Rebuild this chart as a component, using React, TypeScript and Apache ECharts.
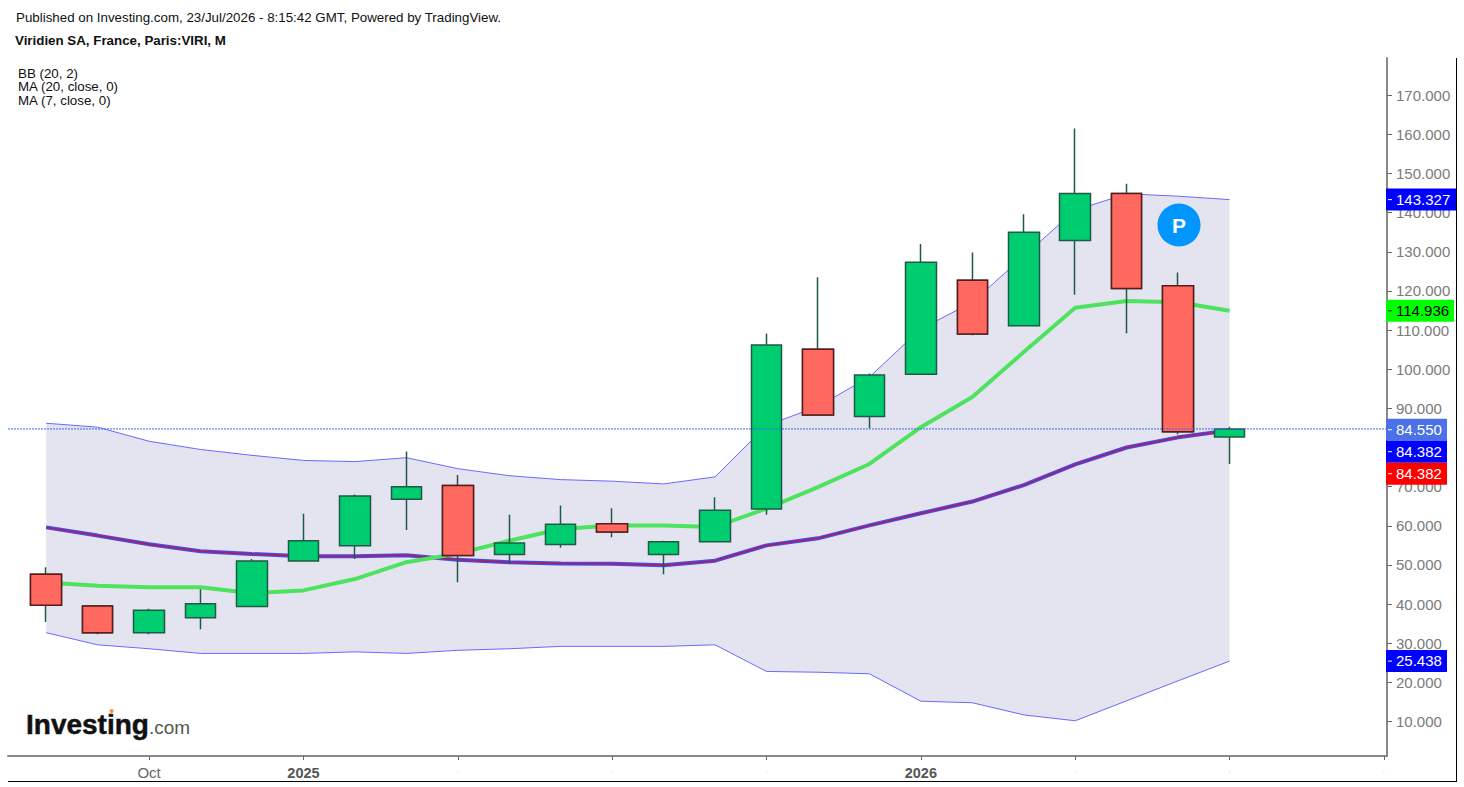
import React, { useEffect, useRef } from "react";
import * as echarts from "echarts";

// [open, close, low, high], monthly
const candles: number[][] = [
  [47.6, 39.7, 35.4, 49.4],
  [39.5, 32.7, 32.3, 39.6],
  [32.7, 38.4, 32.3, 38.8],
  [36.5, 40.1, 33.6, 43.8],
  [39.4, 51.0, 39.2, 51.5],
  [51.0, 56.2, 50.9, 63.1],
  [54.9, 67.6, 51.5, 68.0],
  [66.8, 70.0, 58.9, 79.0],
  [70.3, 52.4, 45.6, 73.0],
  [52.7, 55.6, 50.4, 62.8],
  [55.2, 60.4, 54.4, 65.2],
  [60.5, 58.4, 57.1, 64.5],
  [52.7, 55.9, 47.6, 56.2],
  [55.9, 64.0, 55.9, 67.3],
  [64.3, 106.2, 62.8, 109.1],
  [105.1, 88.3, 88.3, 123.5],
  [87.9, 98.5, 84.9, 98.9],
  [98.7, 127.3, 98.7, 132.0],
  [122.7, 109.0, 108.7, 129.8],
  [111.1, 135.0, 110.9, 139.6],
  [132.9, 144.9, 119.0, 161.5],
  [144.9, 120.6, 109.2, 147.4],
  [121.3, 84.0, 83.4, 124.7],
  [82.7, 84.75, 75.8, 85.3],
];
const bbUpper = [86.2, 85.2, 81.6, 79.5, 78.0, 76.7, 76.4, 77.4, 74.6, 72.8, 71.8, 71.4, 70.7, 72.5, 85.6, 90.5, 98.0, 110.3, 117.1, 128.9, 140.6, 144.8, 144.2, 143.327];
const bbLower = [32.7, 29.6, 28.6, 27.4, 27.4, 27.4, 27.8, 27.4, 28.2, 28.6, 29.2, 29.2, 29.2, 29.6, 22.8, 22.6, 22.2, 15.2, 14.8, 11.7, 10.2, 15.3, 20.4, 25.438];
const bbBasis = [59.6, 57.5, 55.3, 53.5, 52.8, 52.2, 52.2, 52.5, 51.3, 50.7, 50.4, 50.3, 49.9, 51.1, 55.0, 56.8, 60.1, 63.2, 66.2, 70.4, 75.7, 80.0, 82.6, 84.382];
const ma7 = [45.5, 44.7, 44.3, 44.3, 42.8, 43.5, 46.4, 50.7, 52.9, 56.2, 59.2, 60.1, 60.1, 59.7, 64.4, 69.9, 75.8, 85.2, 92.9, 104.4, 115.7, 117.4, 117.1, 114.936];

const yTicks = [10, 20, 30, 40, 50, 60, 70, 80, 90, 100, 110, 120, 130, 140, 150, 160, 170];
// 80.000 sits fully behind the price tags in the reference, so it has no visible label
const yLabels = [10, 20, 30, 40, 50, 60, 70, 90, 100, 110, 120, 130, 140, 150, 160, 170];
const xTicks = [2, 5, 8, 11, 14, 17, 20, 23, 26];
const xTickLabels = ["Oct", "2025", ".", ".", ".", "2026", ".", ".", "."];
const lastPrice = 84.75;

const priceTags = [
  { text: "143.327", value: 143.327, fill: "#0000ff", ink: "#ffffff", width: 70, shift: 0 },
  { text: "114.936", value: 114.936, fill: "#00ff00", ink: "#000000", width: 68, shift: 0 },
  { text: "84.550", value: 84.55, fill: "#4a71e6", ink: "#ffffff", width: 61, shift: 0 },
  { text: "84.382", value: 84.55, fill: "#0000ff", ink: "#ffffff", width: 61, shift: 22 },
  { text: "84.382", value: 84.55, fill: "#ff0000", ink: "#ffffff", width: 61, shift: 44 },
  { text: "25.438", value: 25.438, fill: "#0000ff", ink: "#ffffff", width: 61, shift: 0 },
];

const FONT = '"Liberation Sans", Arial, sans-serif';
const X_MIN = -0.7425;
const X_MAX = 26.06;

const withIndex = (arr: number[]) => arr.map((v, i) => [i, v]);

export default function App() {
  const ref = useRef<HTMLDivElement>(null);
  useEffect(() => {
    document.body.style.margin = "0";
    const chart = echarts.init(ref.current!, undefined, { renderer: "svg" });
    const allBodies = candles.map((c, i) => [i, c[0], c[1], c[2], c[3]]);
    const redBodies = candles
      .map((c, i) => ({ c, i }))
      .filter(({ c }) => c[1] < c[0])
      .map(({ c, i }) => [i, c[0], c[1], c[1], c[0]]);

    const text = (x: number, y: number, t: string, font: string, fill = "#111111", extra: any = {}) => ({
      type: "text",
      x,
      y,
      style: { text: t, font, fill, textVerticalAlign: "middle", ...extra },
    });

    chart.setOption({
      animation: false,
      backgroundColor: "#ffffff",
      grid: { left: 8, right: 77, top: 58, bottom: 31, containLabel: false },
      xAxis: {
        type: "value",
        min: X_MIN,
        max: X_MAX,
        splitLine: { show: false },
        axisLine: { show: true, onZero: false, lineStyle: { color: "#888888", width: 2 } },
        axisTick: { show: true, customValues: xTicks, length: 4, lineStyle: { color: "#666666", width: 1 } },
        axisLabel: {
          customValues: xTicks,
          margin: 9,
          fontFamily: FONT,
          fontSize: 15,
          color: "#666666",
          formatter: (v: number) => {
            const s = xTickLabels[xTicks.indexOf(v)] ?? "";
            return /^\d{4}$/.test(s) ? `{b|${s}}` : s === "." ? `{d|${s}}` : s;
          },
          rich: {
            b: { fontFamily: FONT, fontSize: 14.5, fontWeight: "bold", color: "#555555" },
            d: { fontFamily: FONT, fontSize: 8, color: "#bbbbbb" },
          },
        },
      },
      yAxis: {
        type: "value",
        position: "right",
        min: 1.2,
        max: 179.5,
        splitLine: { show: false },
        axisLine: { show: true, onZero: false, lineStyle: { color: "#888888", width: 2 } },
        axisTick: { show: true, customValues: yTicks, length: 5, lineStyle: { color: "#666666", width: 1 } },
        axisLabel: {
          customValues: yLabels,
          margin: 9,
          fontFamily: FONT,
          fontSize: 15,
          color: "#7a7a7a",
          formatter: (v: number) => v.toFixed(3),
        },
      },
      series: [
        {
          type: "custom",
          name: "BB (20, 2)",
          z: 1,
          silent: true,
          data: [[0, bbUpper[0]]],
          renderItem: (_p: any, api: any) => {
            const up = bbUpper.map((v, i) => api.coord([i, v]));
            const lo = bbLower.map((v, i) => api.coord([i, v]));
            return {
              type: "group",
              children: [
                { type: "polygon", shape: { points: [...up, ...lo.slice().reverse()] }, style: { fill: "#e4e4f0", stroke: "none" } },
                { type: "polyline", shape: { points: up }, style: { fill: "none", stroke: "#6a6aff", lineWidth: 1 } },
                { type: "polyline", shape: { points: lo }, style: { fill: "none", stroke: "#6a6aff", lineWidth: 1 } },
              ],
            };
          },
        },
        {
          type: "line",
          name: "BB basis",
          z: 2,
          data: withIndex(bbBasis),
          showSymbol: false,
          silent: true,
          lineStyle: { color: "#4a4ae6", width: 4 },
        },
        {
          type: "line",
          name: "MA (20, close, 0)",
          z: 2,
          data: withIndex(bbBasis),
          showSymbol: false,
          silent: true,
          lineStyle: { color: "#a8205e", width: 1.5 },
        },
        {
          type: "line",
          name: "MA (7, close, 0)",
          z: 2,
          data: withIndex(ma7),
          showSymbol: false,
          silent: true,
          lineStyle: { color: "#4de35f", width: 4 },
        },
        {
          type: "candlestick",
          name: "VIRI",
          z: 3,
          silent: true,
          barWidth: 31,
          data: allBodies,
          itemStyle: { color: "#00cc70", color0: "#ff6960", borderColor: "#1f5a46", borderColor0: "#1f5a46", borderWidth: 1.5 },
        },
        {
          type: "candlestick",
          name: "VIRI down bodies",
          z: 4,
          silent: true,
          barWidth: 31,
          data: redBodies,
          itemStyle: { color: "#00cc70", color0: "#ff6960", borderColor: "#5e1a1a", borderColor0: "#5e1a1a", borderWidth: 1.5 },
        },
        {
          type: "line",
          name: "Last price",
          z: 5,
          data: [[X_MIN, lastPrice], [X_MAX, lastPrice]],
          showSymbol: false,
          silent: true,
          lineStyle: { color: "#3b6be8", width: 1, type: [2, 1] },
        },
        {
          type: "custom",
          name: "Price tags",
          z: 10,
          silent: true,
          clip: false,
          data: priceTags.map((t, i) => [i, t.value]),
          renderItem: (p: any, api: any) => {
            const t = priceTags[p.dataIndex];
            const pt = api.coord([X_MAX, t.value]);
            const x = pt[0];
            const y = pt[1] + t.shift;
            return {
              type: "group",
              children: [
                { type: "rect", shape: { x: x - 1, y: y - 11, width: t.width, height: 22 }, style: { fill: t.fill } },
                { type: "rect", shape: { x: x + 1, y: y - 0.5, width: 4, height: 1 }, style: { fill: t.ink } },
                {
                  type: "text",
                  x: x + 9,
                  y: y - 0.5,
                  style: { text: t.text, fill: t.ink, font: `15px ${FONT}`, textAlign: "left", textVerticalAlign: "middle" },
                },
              ],
            };
          },
        },
      ],
      graphic: [
        text(16, 17, "Published on Investing.com, 23/Jul/2026 - 8:15:42 GMT, Powered by TradingView.", `13.33px ${FONT}`),
        text(15, 40, "Viridien SA, France, Paris:VIRI, M", `bold 13.33px ${FONT}`),
        text(18, 73, "BB (20, 2)", `13.33px ${FONT}`),
        text(18, 86.5, "MA (20, close, 0)", `13.33px ${FONT}`),
        text(18, 100, "MA (7, close, 0)", `13.33px ${FONT}`),
        text(26, 724, "Investing", `bold 28px ${FONT}`, "#111111", { stroke: "#111111", lineWidth: 0.5, letterSpacing: 0 }),
        text(149, 727, ".com", `19px ${FONT}`, "#555555"),
        { type: "circle", shape: { cx: 111.5, cy: 711, r: 2 }, style: { fill: "#f7941d" } },
        { type: "circle", shape: { cx: 1179, cy: 225, r: 21.5 }, style: { fill: "#0095ff" }, z: 20 },
        {
          type: "text",
          x: 1179,
          y: 225,
          z: 21,
          style: { text: "P", font: `bold 21px ${FONT}`, fill: "#ffffff", textAlign: "center", textVerticalAlign: "middle" },
        },
        { type: "line", shape: { x1: 8, y1: 781.5, x2: 1456.5, y2: 781.5 }, style: { stroke: "#000000", lineWidth: 1 } },
        { type: "line", shape: { x1: 1456.5, y1: 58, x2: 1456.5, y2: 782 }, style: { stroke: "#000000", lineWidth: 1 } },
      ],
    });
    return () => chart.dispose();
  }, []);
  return <div ref={ref} style={{ width: 1464, height: 787 }} />;
}
